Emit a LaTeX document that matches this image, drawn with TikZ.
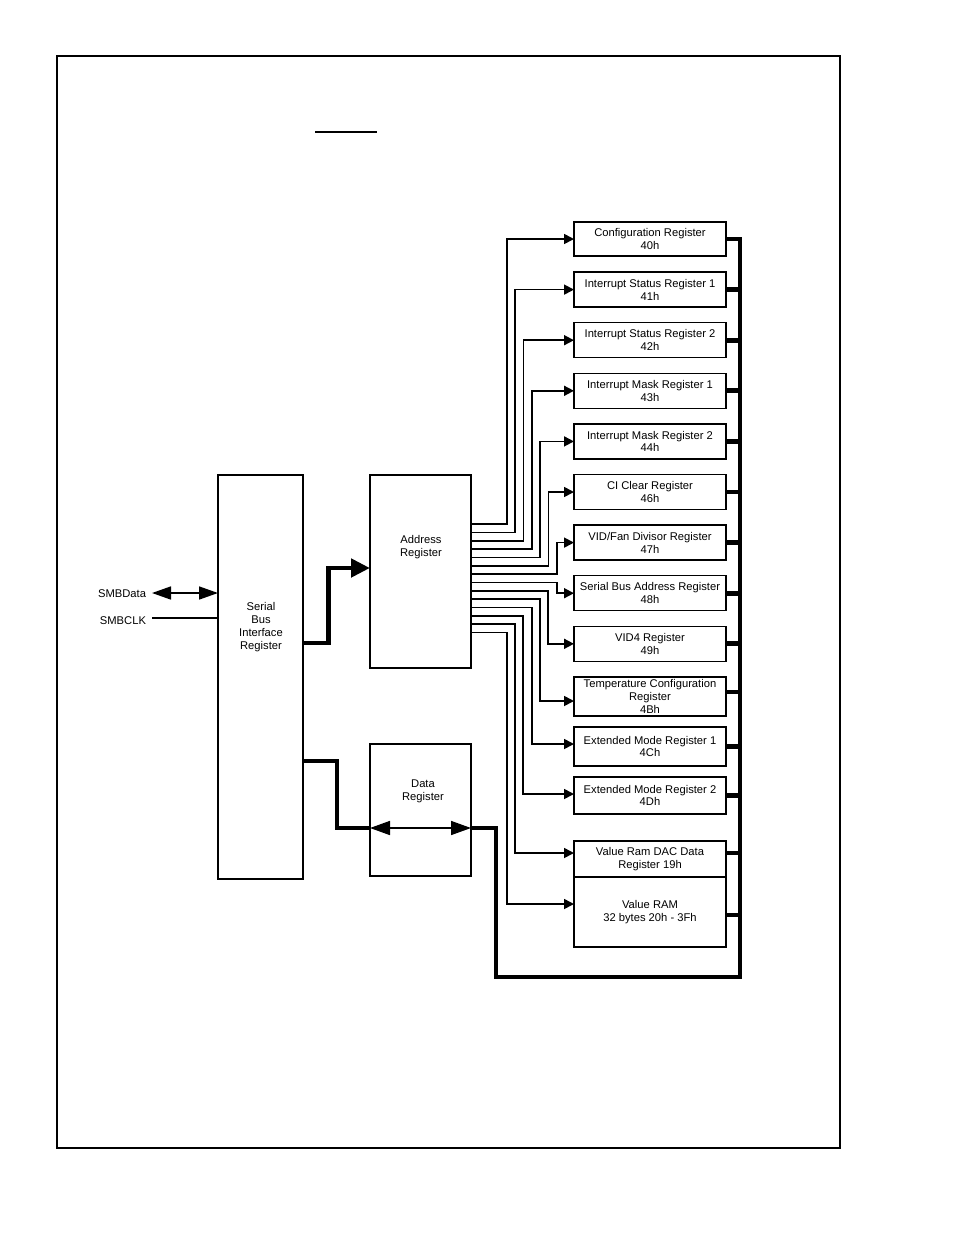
\documentclass[tikz,border=0pt]{standalone}
\usepackage{fontspec}
\setmainfont{Liberation Sans}
\usetikzlibrary{arrows.meta}
\begin{document}
\begin{tikzpicture}[x=1bp,y=-1bp,
  every node/.style={font=\fontsize{11.2bp}{12.8bp}\selectfont, align=center, inner sep=0pt, outer sep=0pt},
  blk/.style={draw, line width=1.3bp},
  regbox/.style={draw, line width=1.3bp, minimum width=152bp, minimum height=#1},
  fan/.style={line width=1.7bp, -{Triangle[length=10bp,width=10bp]}},
  bus/.style={line width=4.8bp, line join=miter},
  thinln/.style={line width=1.6bp}
]
\useasboundingbox (0,0) rectangle (954,1235);
% frame
\draw[line width=1.3bp] (57,56) rectangle (840,1148);
\coordinate (ovA) at (315,132);
\coordinate (ovB) at (377,132);
\draw[line width=1.3bp] (ovA) -- (ovB);

% main blocks
\node[blk, minimum width=85bp, minimum height=404bp] (sbi) at (260.5,677) {};
\node (sbiT) at (261,627) {Serial\\Bus\\Interface\\Register};
\node[blk, minimum width=101bp, minimum height=193bp] (addr) at (420.5,571.5) {};
\node (addrT) at (421,547) {Address\\Register};
\node[blk, minimum width=101bp, minimum height=132bp] (data) at (420.5,810) {};
\node (dataT) at (423,791.5) {Data\\Register};

% registers
\node[regbox=34bp] (r0) at (650,239) {Configuration Register\\40h};
\node[regbox=35bp] (r1) at (650,289.6) {Interrupt Status Register 1\\41h};
\node[regbox=35bp] (r2) at (650,340.2) {Interrupt Status Register 2\\42h};
\node[regbox=35bp] (r3) at (650,390.8) {Interrupt Mask Register 1\\43h};
\node[regbox=35bp] (r4) at (650,441.4) {Interrupt Mask Register 2\\44h};
\node[regbox=35bp] (r5) at (650,492) {CI Clear Register\\46h};
\node[regbox=35bp] (r6) at (650,542.6) {VID/Fan Divisor Register\\47h};
\node[regbox=35bp] (r7) at (650,593.2) {Serial Bus Address Register\\48h};
\node[regbox=35bp] (r8) at (650,643.8) {VID4 Register\\49h};
\node[regbox=39bp] (r9) at (650,696.5) {Temperature Configuration\\Register\\4Bh};
\node[regbox=39bp] (r10) at (650,746.5) {Extended Mode Register 1\\4Ch};
\node[regbox=37bp] (r11) at (650,795.5) {Extended Mode Register 2\\4Dh};
\node[regbox=36bp] (r12) at (650,859) {Value Ram DAC Data\\Register 19h};
\node[regbox=70bp] (r13) at (650,912) {Value RAM\\32 bytes 20h - 3Fh};

% SMB lines
\node[anchor=east] (smbdT) at (146,594) {SMBData};
\node[anchor=east] (smbcT) at (146,621) {SMBCLK};
\coordinate (smbd) at (152,593);
\coordinate (smbc) at (152,618);
\draw[thinln, {Triangle[length=19bp,width=13bp]}-{Triangle[length=19bp,width=13bp]}] (smbd) -- (smbd -| sbi.west);
\draw[thinln] (smbc) -- (smbc -| sbi.west);

% SBI -> address
\coordinate (sA) at (303,643);
\coordinate (aIn) at (370,568);
\draw[bus, -{Triangle[length=19bp,width=18bp]}] (sA) -- (328.5,643) -- (328.5,568) -- (aIn);

% SBI -> data
\coordinate (sD) at (303,761);
\coordinate (dL) at (370,828);
\coordinate (dR) at (471,828);
\draw[bus] (sD) -- (337,761) -- (337,828) -- (dL);
\draw[thinln, {Triangle[length=20bp,width=14bp]}-{Triangle[length=20bp,width=14bp]}] (dL) -- (dR);

% fan-out from address register
\foreach \i in {0,...,13} {
  \coordinate (o\i) at (471,{524.3+8.33*\i});
}
\foreach \i in {0,...,6} {
  \draw[fan] (o\i) -- ++({35.7+8.33*\i},0) |- (r\i.west);
}
\draw[fan] (o7) -- ++(85.7,0) |- (r7.west);
\draw[fan] (o8) -- ++(77.3,0) |- (r8.west);
\draw[fan] (o9) -- ++(69,0) |- ([yshift=-4.5bp]r9.west);
\draw[fan] (o10) -- ++(60.7,0) |- ([yshift=2.5bp]r10.west);
\draw[fan] (o11) -- ++(52.3,0) |- ([yshift=1.5bp]r11.west);
\draw[fan] (o12) -- ++(44,0) |- ([yshift=6bp]r12.west);
\draw[fan] (o13) -- ++(35.7,0) |- ([yshift=8bp]r13.west);

% data bus
\coordinate (busTop) at (740,239);
\coordinate (busCorner) at (740,977);
\coordinate (busLeft) at (496,977);
\draw[bus] (r0.east) -- (busTop) -- (busCorner) -- (busLeft) |- (dR);
\foreach \i in {1,...,8,10,11} {
  \draw[bus] (r\i.east) -- (r\i.east -| busTop);
}
\draw[bus] ([yshift=4.5bp]r9.east) -- ([yshift=4.5bp]r9.east -| busTop);
\draw[bus] ([yshift=6bp]r12.east) -- ([yshift=6bp]r12.east -| busTop);
\draw[bus] ([yshift=-3bp]r13.east) -- ([yshift=-3bp]r13.east -| busTop);
\end{tikzpicture}
\end{document}
